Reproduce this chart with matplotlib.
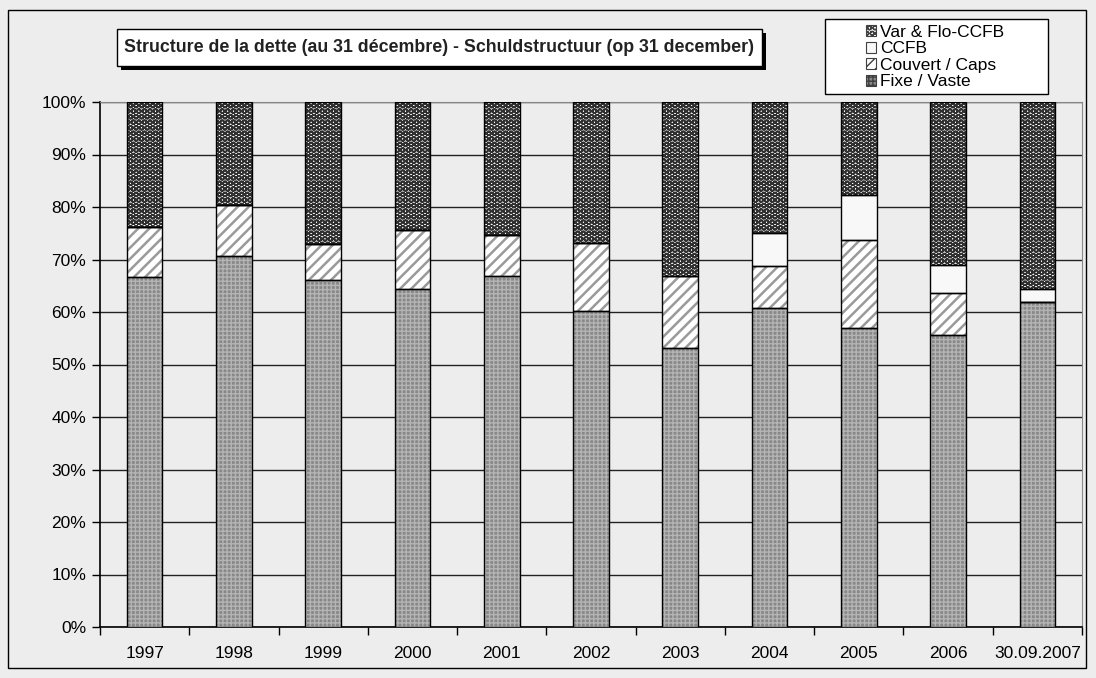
import matplotlib.pyplot as plt
import matplotlib.patches as mpatches
import numpy as np

plt.rcParams['font.family'] = ['Liberation Sans', 'DejaVu Sans']

years = ['1997', '1998', '1999', '2000', '2001', '2002', '2003',
         '2004', '2005', '2006', '30.09.2007']
# shares in %
fixe = [66.7, 70.7, 66.1, 64.3, 66.9, 60.1, 53.2, 60.8, 56.9, 55.6, 61.9]
caps = [9.5, 9.7, 6.9, 11.3, 7.8, 13.0, 13.7, 8.0, 16.9, 8.0, 0.0]
ccfb = [0.0, 0.0, 0.0, 0.0, 0.0, 0.0, 0.0, 6.3, 8.4, 5.3, 2.5]
var_flo = [100 - a - b - c for a, b, c in zip(fixe, caps, ccfb)]

# name, values, face, hatch colour, hatch, hatch linewidth
series = [
    ('Fixe / Vaste', fixe, '#888888', '#b4b4b4', '++++', 1.0),
    ('Couvert / Caps', caps, '#ffffff', '#9a9a9a', '///', 1.8),
    ('CCFB', ccfb, '#f8f8f8', '#f8f8f8', None, 1.0),
    ('Var & Flo-CCFB', var_flo, '#ffffff', '#303030', 'OOO', 1.25),
]

bg = '#ededed'
fig = plt.figure(figsize=(10.96, 6.78), dpi=100, facecolor=bg)
W, H = 1096, 678
ax = fig.add_axes([100 / W, 1 - 627 / H, 982 / W, 525 / H])
ax.set_facecolor(bg)

x = np.arange(len(years))
bottom = np.zeros(len(years))
handles = []
for name, vals, face, hcol, hatch, hlw in series:
    plt.rcParams['hatch.linewidth'] = hlw
    vals = np.array(vals)
    ax.bar(x, vals, 0.4, bottom=bottom, color=face, edgecolor=hcol,
           hatch=hatch, linewidth=0, zorder=3)
    ax.bar(x, vals, 0.4, bottom=bottom, fill=False, edgecolor='black',
           linewidth=1, zorder=4)
    plt.rcParams['hatch.linewidth'] = 1.0
    handles.append(mpatches.Patch(facecolor=face, edgecolor='#404040',
                                  hatch=hatch, linewidth=0.8, label=name))
    bottom += vals

ax.set_xlim(-0.5, len(years) - 0.5)
ax.set_ylim(0, 100)
ax.set_yticks(np.arange(0, 101, 10))
ax.set_yticklabels([f'{v}%' for v in range(0, 101, 10)], fontsize=12.5)
ax.set_xticks(x)
ax.set_xticklabels(years, fontsize=12.5)
ax.set_xticks(np.arange(-0.5, len(years), 1), minor=True)
ax.tick_params(axis='x', which='major', length=0, pad=14)
ax.tick_params(axis='x', which='minor', length=6, width=1, direction='out')
ax.tick_params(axis='y', length=6, width=1, direction='out', pad=4)
ax.yaxis.grid(True, color='#222222', linewidth=1, zorder=1)
ax.set_axisbelow(True)
for side in ['top', 'right']:
    ax.spines[side].set_color('#888888')
for side in ['left', 'bottom']:
    ax.spines[side].set_color('black')
    ax.spines[side].set_linewidth(1.2)

# outer frame
fig.patches.append(mpatches.Rectangle((8 / W, 1 - 668 / H), 1078 / W, 658 / H,
                                      transform=fig.transFigure, fill=False,
                                      edgecolor='black', linewidth=1))

# title box with shadow
fig.patches.append(mpatches.Rectangle((121 / W, 1 - 70 / H), 645 / W, 37 / H,
                                      transform=fig.transFigure,
                                      facecolor='black', edgecolor='none'))
fig.patches.append(mpatches.Rectangle((117 / W, 1 - 66 / H), 645 / W, 37 / H,
                                      transform=fig.transFigure,
                                      facecolor='white', edgecolor='black',
                                      linewidth=1))
fig.text(439 / W, 1 - 48 / H,
         'Structure de la dette (au 31 décembre) - Schuldstructuur (op 31 december)',
         ha='center', va='center', fontsize=12.8, fontweight='bold',
         color='#222222')

# legend box
fig.patches.append(mpatches.Rectangle((825 / W, 1 - 94 / H), 223 / W, 75 / H,
                                      transform=fig.transFigure,
                                      facecolor='white', edgecolor='black',
                                      linewidth=1))
fig.legend(handles=handles[::-1], loc='upper left',
           bbox_to_anchor=(866 / W, 1 - 25 / H), frameon=False, fontsize=12.5,
           handlelength=0.6, handleheight=0.6, handletextpad=0.2,
           labelspacing=0.08, borderpad=0, borderaxespad=0)

fig.savefig('out.png', dpi=100, facecolor=bg)
